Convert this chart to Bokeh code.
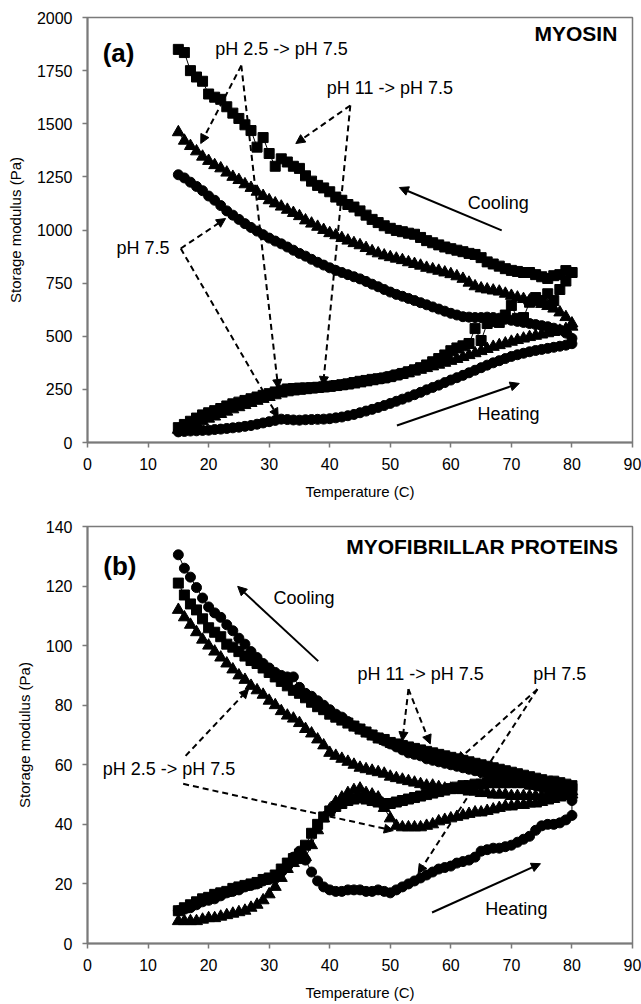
from bokeh.plotting import figure
from bokeh.models import Range1d, SingleIntervalTicker, Label, Arrow, NormalHead
from bokeh.layouts import column
from bokeh.embed import file_html
from bokeh.resources import INLINE

# ---------------- data ----------------
TEMPS = [15, 16, 17, 18, 19, 20, 21, 22, 23, 24,
         25, 26, 27, 28, 29, 30, 31, 32, 33, 34,
         35, 36, 37, 38, 39, 40, 41, 42, 43, 44,
         45, 46, 47, 48, 49, 50, 51, 52, 53, 54,
         55, 56, 57, 58, 59, 60, 61, 62, 63, 64,
         65, 66, 67, 68, 69, 70, 71, 72, 73, 74,
         75, 76, 77, 78, 79, 80]

# Panel (a) MYOSIN, storage modulus (Pa), values listed by ascending temperature
a_ph75_heat = [50, 52, 54, 55, 57, 58, 61, 63, 66, 69,
               72, 76, 80, 86, 92, 98, 104, 110, 108, 106,
               105, 107, 108, 109, 110, 112, 116, 120, 126, 132,
               140, 148, 156, 165, 174, 184, 194, 204, 214, 225,
               236, 248, 259, 270, 282, 294, 305, 316, 328, 340,
               352, 364, 375, 385, 395, 405, 413, 420, 427, 433,
               438, 443, 448, 453, 458, 465]
a_ph75_cool = [1260, 1245, 1225, 1205, 1185, 1160, 1140, 1115, 1090, 1070,
               1050, 1030, 1012, 995, 978, 962, 948, 935, 920, 905,
               890, 877, 862, 848, 835, 822, 810, 800, 790, 780,
               770, 758, 745, 733, 720, 708, 697, 688, 678, 668,
               658, 648, 638, 628, 618, 608, 600, 592, 590, 588,
               588, 590, 588, 585, 580, 575, 570, 565, 560, 555,
               550, 545, 538, 530, 515, 490]
a_ph25_heat = [60, 68, 78, 88, 100, 112, 122, 134, 145, 156,
               166, 176, 186, 196, 205, 214, 222, 230, 236, 240,
               243, 246, 249, 252, 255, 258, 261, 265, 269, 273,
               278, 283, 288, 294, 300, 306, 312, 319, 326, 334,
               342, 350, 358, 366, 375, 384, 393, 402, 411, 420,
               430, 440, 450, 458, 466, 474, 482, 489, 496, 502,
               508, 514, 520, 526, 534, 545]
a_ph25_cool = [1460, 1420, 1395, 1370, 1345, 1325, 1305, 1290, 1270, 1250,
               1235, 1215, 1198, 1180, 1160, 1140, 1125, 1110, 1095, 1080,
               1065, 1045, 1030, 1015, 1000, 985, 975, 962, 950, 938,
               928, 915, 900, 890, 880, 872, 865, 858, 848, 840,
               832, 822, 815, 808, 800, 792, 782, 770, 752, 735,
               725, 720, 715, 710, 700, 690, 682, 675, 668, 660,
               652, 642, 630, 612, 590, 560]
a_ph11_heat = [70, 85, 100, 115, 130, 140, 150, 160, 172, 182,
               190, 198, 206, 214, 222, 230, 238, 246, 252, 254,
               256, 257, 258, 260, 262, 265, 268, 272, 276, 282,
               288, 292, 297, 300, 304, 310, 318, 325, 333, 342,
               352, 365, 380, 395, 412, 432, 445, 455, 466, 536,
               480, 560, 570, 565, 600, 645, 584, 588, 660, 682,
               668, 700, 668, 720, 760, 800]
a_ph11_cool = [1850, 1835, 1750, 1720, 1700, 1640, 1625, 1615, 1580, 1550,
               1525, 1495, 1468, 1390, 1435, 1360, 1300, 1335, 1320, 1300,
               1290, 1255, 1230, 1210, 1198, 1180, 1155, 1140, 1120, 1108,
               1090, 1070, 1050, 1035, 1020, 1008, 998, 992, 985, 980,
               965, 950, 940, 930, 920, 912, 905, 898, 890, 885,
               870, 850, 840, 830, 818, 810, 805, 800, 800, 790,
               780, 772, 785, 790, 809, 800]

# Panel (b) MYOFIBRILLAR PROTEINS
b_ph75_heat = [11, 11.5, 12, 13, 14, 14.5, 15, 16, 17, 17.5,
               18, 19, 19.5, 20, 21, 21.5, 22, 24, 26, 29,
               31, 28, 24, 21, 19, 18, 17.5, 17.5, 18, 18,
               18, 17.5, 17.5, 18, 17.5, 17, 18, 19, 20, 21,
               22, 23, 24, 25, 25.5, 26, 27, 27.5, 28, 29,
               31, 31.5, 32, 32, 32.5, 33, 34, 35, 36, 38,
               39.5, 40, 40, 40.5, 41.5, 43]
b_ph75_cool = [130.5, 126, 123, 119.5, 116, 113, 111, 109.5, 107, 105,
               102.5, 100.5, 98, 96, 94, 92.5, 91, 90, 89.5, 89.5,
               86, 84, 83, 81.5, 80, 78.5, 77, 76, 74.5, 73,
               72, 71, 70, 69, 68, 67, 66, 65, 64, 63.5,
               63, 62, 61.5, 61, 60.5, 60, 59.5, 59, 58.5, 58,
               57.5, 57, 56.5, 56, 55.5, 55, 54.5, 54, 53.5, 53,
               52.5, 52, 51.5, 51, 50, 48]
b_ph11_heat = [11, 12, 13, 14, 15, 15.5, 16.5, 17, 17.5, 18.5,
               19, 19.5, 20, 20.5, 21.5, 22, 23, 25, 27, 28.5,
               30, 33, 37, 40, 42.5, 44.5, 46, 47, 48, 48.5,
               49, 48.5, 48, 47.5, 47, 47, 47.5, 48, 48.5, 49,
               49.5, 50, 50.5, 51, 51.5, 52, 52.5, 53, 53, 53.5,
               53.5, 54, 54, 54, 54, 54, 54, 54, 53.5, 53.5,
               53, 53, 53, 53, 52.5, 52]
b_ph11_cool = [121, 117, 114, 112, 109, 106, 104.5, 103, 100.5, 99.5,
               98, 96.5, 95, 94, 92.5, 91, 89.5, 88, 86.5, 85,
               84, 82.5, 81, 79.5, 78.5, 77, 76, 75, 74, 73,
               72, 71, 70, 69, 68.5, 67.5, 67, 66.5, 66, 65.5,
               65, 64.5, 64, 63.5, 63, 62.5, 62, 61.5, 61, 60.5,
               60, 59.5, 59, 58.5, 58, 57.5, 57, 56.5, 56, 55.5,
               55, 54.5, 54.5, 54, 53.5, 53]
b_ph25_heat = [7.5, 7.5, 7.5, 7.5, 8, 8.5, 8.5, 9, 9.5, 10,
               10.5, 11, 12, 13, 14.5, 16.5, 19, 22, 25, 27,
               28, 29, 33, 38, 42, 45, 47.5, 49, 50.5, 51.5,
               52, 50.5, 50, 49, 45.5, 42, 39.5, 39, 39, 39,
               39, 39.5, 40, 41, 41.5, 42, 42.5, 43, 43.5, 44,
               44, 44.5, 45, 45.5, 46, 46, 46.5, 46.5, 47, 47,
               47.5, 48, 48.5, 49, 49.5, 50]
b_ph25_cool = [112, 109.5, 107, 104.5, 102, 100, 98, 96, 94, 92,
               90, 88.5, 86.5, 85, 83.5, 81.5, 80, 78, 76.5, 75.5,
               74, 72, 70.5, 68.5, 66.5, 64, 63, 62, 61, 60,
               59, 58.5, 58, 57.5, 57, 56, 55.5, 55, 54.5, 54,
               53.5, 53, 53, 52.5, 52, 52, 51.5, 51.5, 51, 51,
               50.5, 50.5, 50, 50, 50, 49.5, 49.5, 49.5, 49.5, 49.5,
               49.5, 50, 50, 50.5, 51, 51]

X_TICKS_STEP = 10
A_Y_MAX, A_Y_STEP = 2000, 250
B_Y_MAX, B_Y_STEP = 140, 20

FONT = "Liberation Sans"
GREY = "#7a7a7a"


def make_fig(height, ymax, ystep, left, top, bottom):
    p = figure(width=641, height=height, x_range=Range1d(0, 90), y_range=Range1d(0, ymax),
               output_backend="svg", toolbar_location=None,
               min_border_left=left, min_border_right=9,
               min_border_top=top, min_border_bottom=bottom)
    p.xaxis.ticker = SingleIntervalTicker(interval=X_TICKS_STEP)
    p.yaxis.ticker = SingleIntervalTicker(interval=ystep)
    p.grid.visible = False
    for ax in p.axis:
        ax.axis_line_color = GREY
        ax.axis_line_width = 2
        ax.major_tick_line_color = GREY
        ax.major_tick_line_width = 1.5
        ax.major_tick_out = 5
        ax.major_tick_in = 0
        ax.minor_tick_line_color = None
        ax.major_label_text_font = FONT
        ax.major_label_text_font_size = "16px"
        ax.major_label_text_color = "black"
        ax.major_label_standoff = 10
        ax.axis_label_text_font = FONT
        ax.axis_label_text_font_size = "15px"
        ax.axis_label_text_font_style = "normal"
        ax.axis_label_text_color = "black"
    p.xaxis.axis_label = "Temperature (C)"
    p.yaxis.axis_label = "Storage modulus (Pa)"
    p.xaxis.axis_label_standoff = 10
    p.yaxis.axis_label_standoff = 10
    p.outline_line_color = GREY
    p.outline_line_width = 1.5
    p.background_fill_color = "white"
    p.border_fill_color = "white"
    return p


def add_series(p, heat, cool, marker, size):
    xs = TEMPS + TEMPS[::-1]
    ys = heat + cool[::-1]
    p.line(xs, ys, line_color="black", line_width=1)
    p.scatter(xs, ys, marker=marker, size=size, fill_color="black", line_color="black")


def label(p, x, y, text, size="18px", bold=False, align="left"):
    p.add_layout(Label(x=x, y=y, text=text, text_font=FONT, text_font_size=size,
                       text_font_style="bold" if bold else "normal",
                       text_baseline="middle", text_align=align, text_color="black"))


def arrow(p, x0, y0, x1, y1, dashed=True):
    p.add_layout(Arrow(end=NormalHead(size=9, fill_color="black", line_color="black", line_width=1),
                       x_start=x0, y_start=y0, x_end=x1, y_end=y1,
                       line_color="black", line_width=2,
                       line_dash="6 4" if dashed else "solid"))


# ---------------- panel (a) ----------------
pa = make_fig(508, A_Y_MAX, A_Y_STEP, left=83, top=17, bottom=66)
add_series(pa, a_ph11_heat, a_ph11_cool, "square", 10)
add_series(pa, a_ph25_heat, a_ph25_cool, "triangle", 12)
add_series(pa, a_ph75_heat, a_ph75_cool, "circle", 10)

label(pa, 2.5, 1835, "(a)", size="26px", bold=True)
label(pa, 87.5, 1925, "MYOSIN", size="21px", bold=True, align="right")
label(pa, 21.1, 1854, "pH 2.5 -> pH 7.5")
label(pa, 39.5, 1666, "pH 11 -> pH 7.5")
label(pa, 4.8, 913, "pH 7.5")
label(pa, 62.8, 1129, "Cooling")
label(pa, 64.4, 136, "Heating")

arrow(pa, 25.4, 1774, 18.7, 1407)
arrow(pa, 25.4, 1774, 31.5, 254)
arrow(pa, 43.4, 1586, 34.4, 1407)
arrow(pa, 43.4, 1586, 38.9, 268)
arrow(pa, 15.4, 913, 22.8, 1054)
arrow(pa, 15.4, 913, 31.5, 118)
arrow(pa, 68.4, 998, 51.5, 1200, dashed=False)
arrow(pa, 51.1, 80, 71.3, 278, dashed=False)

# ---------------- panel (b) ----------------
pb = make_fig(496, B_Y_MAX, B_Y_STEP, left=87, top=18, bottom=61)
add_series(pb, b_ph11_heat, b_ph11_cool, "square", 10)
add_series(pb, b_ph25_heat, b_ph25_cool, "triangle", 12)
add_series(pb, b_ph75_heat, b_ph75_cool, "circle", 10)

label(pb, 2.6, 126.6, "(b)", size="26px", bold=True)
label(pb, 87.6, 133.3, "MYOFIBRILLAR PROTEINS", size="21px", bold=True, align="right")
label(pb, 30.7, 115.9, "Cooling")
label(pb, 65.7, 11.7, "Heating")
label(pb, 44.6, 90.5, "pH 11 -> pH 7.5")
label(pb, 73.6, 90.5, "pH 7.5")
label(pb, 2.5, 58.6, "pH 2.5 -> pH 7.5")

arrow(pb, 38.1, 94.8, 24.8, 119.9, dashed=False)
arrow(pb, 56.9, 10.4, 74.8, 26.8, dashed=False)
arrow(pb, 53.0, 85.4, 52.0, 68.0)
arrow(pb, 53.0, 85.4, 56.6, 67.0)
arrow(pb, 74.3, 85.4, 61.0, 61.3)
arrow(pb, 74.3, 85.4, 54.6, 23.5)
arrow(pb, 16.2, 63.0, 26.6, 85.4)
arrow(pb, 15.8, 53.6, 50.5, 37.9)

layout = column(pa, pb)
open("out.html", "w").write(file_html(layout, INLINE))
